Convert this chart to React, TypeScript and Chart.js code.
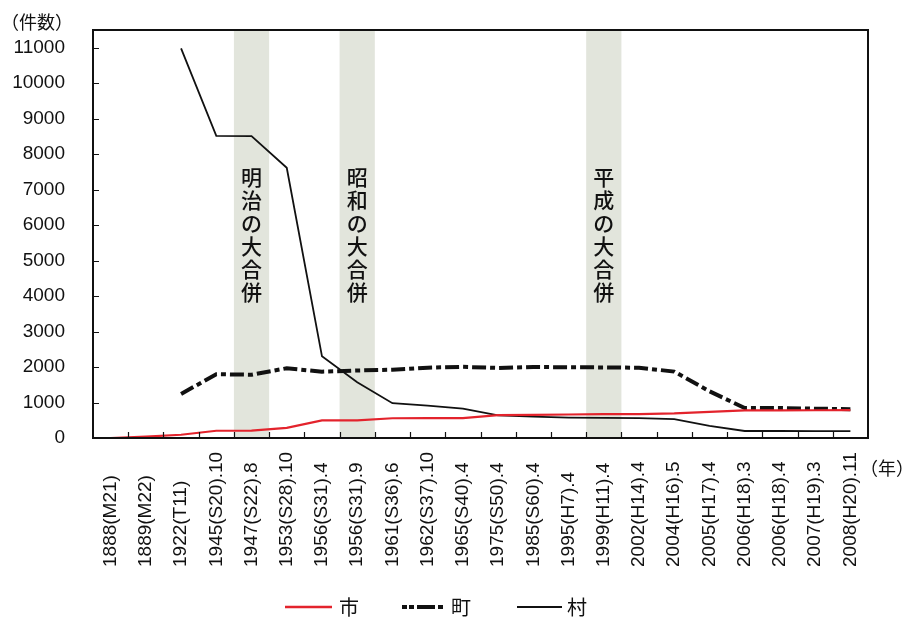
import React, { useEffect, useRef } from "react";
import { Chart, registerables } from "chart.js";

Chart.register(...registerables);

const categories = [
  "1888(M21)", "1889(M22)", "1922(T11)", "1945(S20).10", "1947(S22).8",
  "1953(S28).10", "1956(S31).4", "1956(S31).9", "1961(S36).6", "1962(S37).10",
  "1965(S40).4", "1975(S50).4", "1985(S60).4", "1995(H7).4", "1999(H11).4",
  "2002(H14).4", "2004(H16).5", "2005(H17).4", "2006(H18).3", "2006(H18).4",
  "2007(H19).3", "2008(H20).11",
];
const cityCounts = [0, 39, 91, 205, 210, 286, 495, 498, 556, 558, 560, 643, 651, 663, 671, 675, 695, 739, 777, 779, 782, 783];
const townCounts = [null, null, 1242, 1797, 1784, 1966, 1870, 1903, 1924, 1982, 2005, 1974, 2001, 1994, 1990, 1981, 1872, 1317, 846, 844, 827, 812];
const villageCounts = [null, null, 10982, 8518, 8511, 7616, 2303, 1574, 981, 913, 827, 640, 601, 577, 568, 562, 533, 339, 198, 197, 195, 193];
const yTickValues = [0, 1000, 2000, 3000, 4000, 5000, 6000, 7000, 8000, 9000, 10000, 11000];
const bandIndices = [4, 7, 14];
const bandLabels = ["明治の大合併", "昭和の大合併", "平成の大合併"];
const seriesNames = ["市", "町", "村"];

const LATIN = '"Liberation Sans", Arial, "Noto Sans CJK JP", sans-serif';
const CJK = '"Noto Sans CJK JP", "Liberation Sans", sans-serif';
const TOWN_DASH = [14, 4, 5, 4];

const decor = {
  id: "decor",
  beforeDatasetsDraw(chart: any) {
    const { ctx, chartArea: a, scales } = chart;
    const x = scales.x;
    const y = scales.y;
    const w = (a.right - a.left) / categories.length;
    ctx.save();
    bandIndices.forEach((idx, k) => {
      const cx = x.getPixelForValue(idx);
      ctx.fillStyle = "#e2e5dc";
      ctx.fillRect(cx - w / 2, a.top, w, a.bottom - a.top);
      ctx.fillStyle = "#111";
      ctx.font = `500 21px ${CJK}`;
      ctx.textAlign = "center";
      ctx.textBaseline = "middle";
      const startY = y.getPixelForValue(7360);
      Array.from(bandLabels[k]).forEach((ch, j) => {
        ctx.fillText(ch, cx, startY + j * 23);
      });
    });
    ctx.restore();
  },
  afterDraw(chart: any) {
    const { ctx, chartArea: a, scales } = chart;
    const x = scales.x;
    const y = scales.y;
    const w = (a.right - a.left) / categories.length;
    ctx.save();
    // plot frame
    ctx.strokeStyle = "#111";
    ctx.lineWidth = 2;
    ctx.strokeRect(a.left, a.top, a.right - a.left, a.bottom - a.top);
    // inward ticks
    ctx.lineWidth = 1.2;
    ctx.beginPath();
    yTickValues.forEach((v) => {
      const py = Math.round(y.getPixelForValue(v)) + 0.5;
      ctx.moveTo(a.left, py);
      ctx.lineTo(a.left + 6, py);
    });
    for (let i = 1; i < categories.length; i++) {
      const px = Math.round(x.getPixelForValue(i) - w / 2) + 0.5;
      ctx.moveTo(px, a.bottom);
      ctx.lineTo(px, a.bottom - 6);
    }
    ctx.stroke();
    // x category labels, vertical, aligned at their start (bottom)
    ctx.fillStyle = "#111";
    ctx.font = `19px ${LATIN}`;
    ctx.textBaseline = "middle";
    ctx.textAlign = "left";
    categories.forEach((lab, i) => {
      const px = x.getPixelForValue(i);
      ctx.save();
      ctx.translate(px, a.bottom + 129);
      ctx.rotate(-Math.PI / 2);
      ctx.fillText(lab, 0, 0);
      ctx.restore();
    });
    // axis titles
    ctx.font = `18px ${CJK}`;
    ctx.textBaseline = "middle";
    ctx.textAlign = "left";
    ctx.fillText("（件数）", 1, 22);
    ctx.textAlign = "right";
    ctx.fillText("（年）", 914, a.bottom + 30);
    // legend
    const ly = 607;
    ctx.lineCap = "butt";
    ctx.font = `20px ${CJK}`;
    ctx.textAlign = "left";
    // 市
    ctx.strokeStyle = "#e3232c";
    ctx.lineWidth = 2.5;
    ctx.setLineDash([]);
    ctx.beginPath();
    ctx.moveTo(285, ly);
    ctx.lineTo(332, ly);
    ctx.stroke();
    ctx.fillText(seriesNames[0], 339, ly);
    // 町
    ctx.strokeStyle = "#111";
    ctx.lineWidth = 4;
    ctx.setLineDash([5, 2, 5, 3, 18, 3]);
    ctx.beginPath();
    ctx.moveTo(402, ly);
    ctx.lineTo(445, ly);
    ctx.stroke();
    ctx.setLineDash([]);
    ctx.fillText(seriesNames[1], 451, ly);
    // 村
    ctx.lineWidth = 1.8;
    ctx.beginPath();
    ctx.moveTo(517, ly);
    ctx.lineTo(562, ly);
    ctx.stroke();
    ctx.fillText(seriesNames[2], 567, ly);
    ctx.restore();
  },
};

export default function App() {
  const ref = useRef<HTMLCanvasElement | null>(null);
  useEffect(() => {
    if (!ref.current) return;
    const chart = new Chart(ref.current, {
      type: "line",
      data: {
        labels: categories,
        datasets: [
          {
            label: seriesNames[0],
            data: cityCounts,
            borderColor: "#e3232c",
            borderWidth: 2.2,
            pointRadius: 0,
            tension: 0,
            order: 1,
          },
          {
            label: seriesNames[1],
            data: townCounts as any,
            borderColor: "#111",
            borderWidth: 4,
            borderDash: TOWN_DASH,
            pointRadius: 0,
            tension: 0,
            order: 2,
          },
          {
            label: seriesNames[2],
            data: villageCounts as any,
            borderColor: "#111",
            borderWidth: 1.8,
            pointRadius: 0,
            tension: 0,
            order: 3,
          },
        ],
      },
      options: {
        animation: false,
        responsive: false,
        maintainAspectRatio: false,
        layout: { padding: { top: 30, right: 40, left: 0, bottom: 0 } },
        plugins: { legend: { display: false }, tooltip: { enabled: false } },
        scales: {
          x: {
            type: "category",
            offset: true,
            grid: { display: false, drawTicks: false },
            border: { display: false },
            ticks: { display: false, autoSkip: false },
            afterFit(scale: any) {
              scale.height = 179;
              scale.paddingLeft = 0;
              scale.paddingRight = 0;
              scale.paddingTop = 0;
              scale.paddingBottom = 0;
            },
          },
          y: {
            min: 0,
            max: 11500,
            grid: { display: false, drawTicks: false },
            border: { display: false },
            afterBuildTicks(scale: any) {
              scale.ticks = yTickValues.map((v) => ({ value: v }));
            },
            ticks: {
              padding: 28,
              color: "#111",
              font: { family: LATIN, size: 19 },
              callback: (v: any) => String(v),
            },
            afterFit(scale: any) {
              scale.width = 93;
              scale.paddingTop = 0;
              scale.paddingBottom = 0;
              scale.paddingLeft = 0;
              scale.paddingRight = 0;
            },
          },
        },
      },
      plugins: [decor],
    });
    return () => chart.destroy();
  }, []);
  return (
    <div style={{ position: "fixed", left: 0, top: 0, width: 908, height: 617, background: "#fff" }}>
      <canvas ref={ref} width={908} height={617} style={{ width: 908, height: 617, display: "block" }} />
    </div>
  );
}
